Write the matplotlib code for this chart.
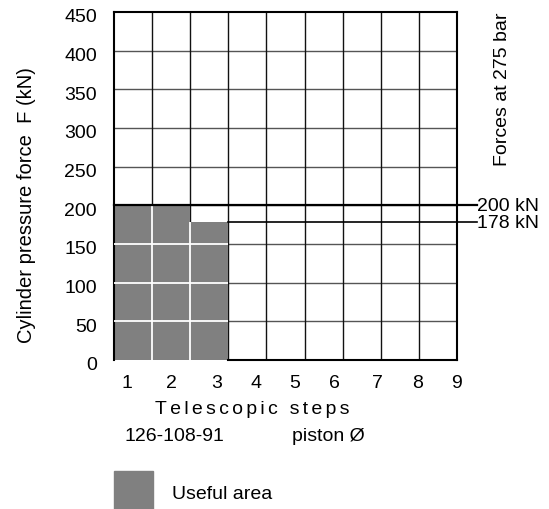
import matplotlib.pyplot as plt
from matplotlib.patches import Rectangle
from matplotlib.transforms import ScaledTranslation

plt.rcParams['font.family'] = ['Liberation Sans', 'DejaVu Sans']
plt.rcParams['font.size'] = 14

# data
steps = [1, 2, 3]
forces = [200, 200, 178]          # kN at 275 bar, per telescopic step
n_cols = 9
y_ticks = [0, 50, 100, 150, 200, 250, 300, 350, 400, 450]
x_labels = ['1', '2', '3', '4', '5', '6', '7', '8', '9']
ref_forces = [200, 178]
ref_labels = ['200 kN', '178 kN']

# label positions as drawn in the original (not evenly spaced)
x_label_pos = [0.36, 1.51, 2.70, 3.74, 4.75, 5.77, 6.91, 7.95, 8.97]

fig = plt.figure(figsize=(5.49, 5.10), dpi=100)
ax = fig.add_axes([113.5 / 549, 1 - 361 / 510, 344 / 549, 348 / 510])
ax.set_xlim(0, n_cols)
ax.set_ylim(0, 450)

# grid
for y in y_ticks[1:-1]:
    ax.axhline(y, color='#555555', lw=1, zorder=1)
for x in range(1, n_cols):
    ax.axvline(x, color='#111111', lw=1, zorder=1)

# useful area
grey = '#808080'
ax.bar([s - 0.5 for s in steps], forces, width=1, color=grey, zorder=2)
ax.hlines([y for y in y_ticks if 0 < y < min(forces)], 0, len(steps),
          color='white', lw=1.3, zorder=3)
for i in range(1, len(steps)):
    ax.vlines(i, 0, min(forces[i - 1], forces[i]), color='white', lw=1.3, zorder=3)

# force lines running out to the right
x_end = 9.5
ax.plot([0, x_end], [ref_forces[0]] * 2, color='black', lw=1.6, zorder=4, clip_on=False)
ax.plot([len(steps), x_end], [ref_forces[1]] * 2, color='black', lw=1.2, zorder=4,
        clip_on=False)
for f, lab in zip(ref_forces, ref_labels):
    ax.text(x_end + 0.02, f, lab, ha='left', va='center', fontsize=14)

# frame
for side in ['left', 'top', 'right']:
    ax.spines[side].set_linewidth(1.5)
ax.spines['bottom'].set_visible(False)
ax.plot([len(steps), n_cols], [0, 0], color='black', lw=1.5, zorder=4, clip_on=False)

ax.set_yticks(y_ticks)
ax.set_xticks(x_label_pos)
ax.set_xticklabels(x_labels)
ax.tick_params(axis='both', length=0, labelsize=14)
ax.tick_params(axis='y', pad=12)
ax.tick_params(axis='x', pad=10)
shift = ScaledTranslation(0, -3 / 100, fig.dpi_scale_trans)
for lab in ax.get_yticklabels():
    lab.set_transform(lab.get_transform() + shift)

# texts around the chart
fig.text(27 / 549, 1 - 205 / 510, 'Cylinder pressure force  F (kN)', rotation=90,
         ha='center', va='center', fontsize=14.5)
fig.text(502 / 549, 1 - 13 / 510, 'Forces at 275 bar', rotation=90,
         ha='center', va='top', fontsize=14)
fig.text(252 / 549, 1 - 409 / 510, '\u2006'.join('Telescopic steps'),
         ha='center', va='center', fontsize=14)
fig.text(174 / 549, 1 - 437 / 510, '126-108-91', ha='center', va='center', fontsize=14)
fig.text(292 / 549, 1 - 437 / 510, 'piston Ø', ha='left', va='center', fontsize=14)

fig.patches.append(Rectangle((114 / 549, 0), 39 / 549, 38 / 510, color=grey,
                             transform=fig.transFigure, figure=fig))
fig.text(172 / 549, 1 - 495 / 510, 'Useful area', ha='left', va='center', fontsize=14)

fig.savefig('out.png', dpi=100)
